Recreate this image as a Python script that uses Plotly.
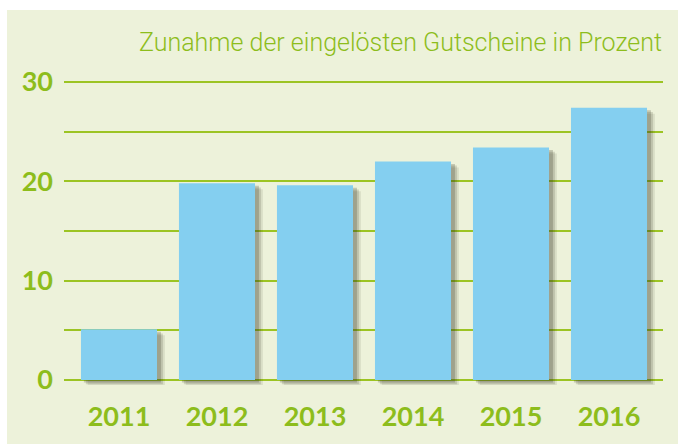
import plotly.graph_objects as go

years = ["2011", "2012", "2013", "2014", "2015", "2016"]
values = [5.1, 19.8, 19.6, 22.0, 23.4, 27.4]
y_ticks = [0, 10, 20, 30]
title_text = "Zunahme der eingelösten Gutscheine in Prozent"

GREEN = "#8dbd1c"
GRID = "#9cc423"
PANEL = "#edf2da"
BAR = "#84cff0"

W, H = 678, 444
ML, MR, MT, MB = 64, 15, 75, 59
PW, PH = W - ML - MR, H - MT - MB

def px2x(px):
    return (px - ML) / PW

def py2y(py):
    return (H - MB - py) / PH

bw = 0.776
fig = go.Figure()

# soft shadow layers
for dx, dy, a in [(0.07, 0.6, 0.10), (0.05, 0.42, 0.16), (0.03, 0.25, 0.22)]:
    fig.add_trace(go.Bar(
        x=list(range(len(years))), y=values, base=-dy,
        width=bw + 0.01, offset=-bw / 2 + dx,
        marker=dict(color=f"rgba(50,50,30,{a})", line=dict(width=0)),
        hoverinfo="skip", showlegend=False))

fig.add_trace(go.Bar(
    x=list(range(len(years))), y=values, width=bw,
    marker=dict(color=BAR, line=dict(width=0)), showlegend=False))

fig.update_layout(
    width=W, height=H,
    margin=dict(l=ML, r=MR, t=MT, b=MB),
    paper_bgcolor="white", plot_bgcolor="rgba(0,0,0,0)",
    barmode="overlay",
    xaxis=dict(range=[-0.561, 5.551], tickmode="array",
               tickvals=list(range(len(years))), ticktext=years,
               showgrid=False, zeroline=False, showline=False, ticks="",
               tickfont=dict(family="Lato", size=27, color=GREEN, weight="bold"),
               ticklabelstandoff=13),
    yaxis=dict(range=[-0.503, 30.7], tickmode="array", tickvals=y_ticks,
               showgrid=True, gridcolor=GRID, gridwidth=2, dtick=5,
               zeroline=False, showline=False, ticks="",
               tickfont=dict(family="Lato", size=27, color=GREEN, weight="bold"),
               ticklabelstandoff=10),
    shapes=[dict(type="rect", xref="paper", yref="paper",
                 x0=px2x(7), x1=px2x(W + 2), y0=py2y(H + 2), y1=py2y(10),
                 fillcolor=PANEL, line=dict(width=0), layer="below")],
    annotations=[dict(text=title_text, xref="paper", yref="paper",
                      x=px2x(664), y=py2y(42), xanchor="right", yanchor="middle",
                      showarrow=False,
                      font=dict(family="Roboto", size=25, color=GREEN, weight=300))],
)

fig.update_yaxes(minor=dict(tickvals=[5, 15, 25], showgrid=True, gridcolor=GRID, gridwidth=2))

fig.write_html("out.html")
